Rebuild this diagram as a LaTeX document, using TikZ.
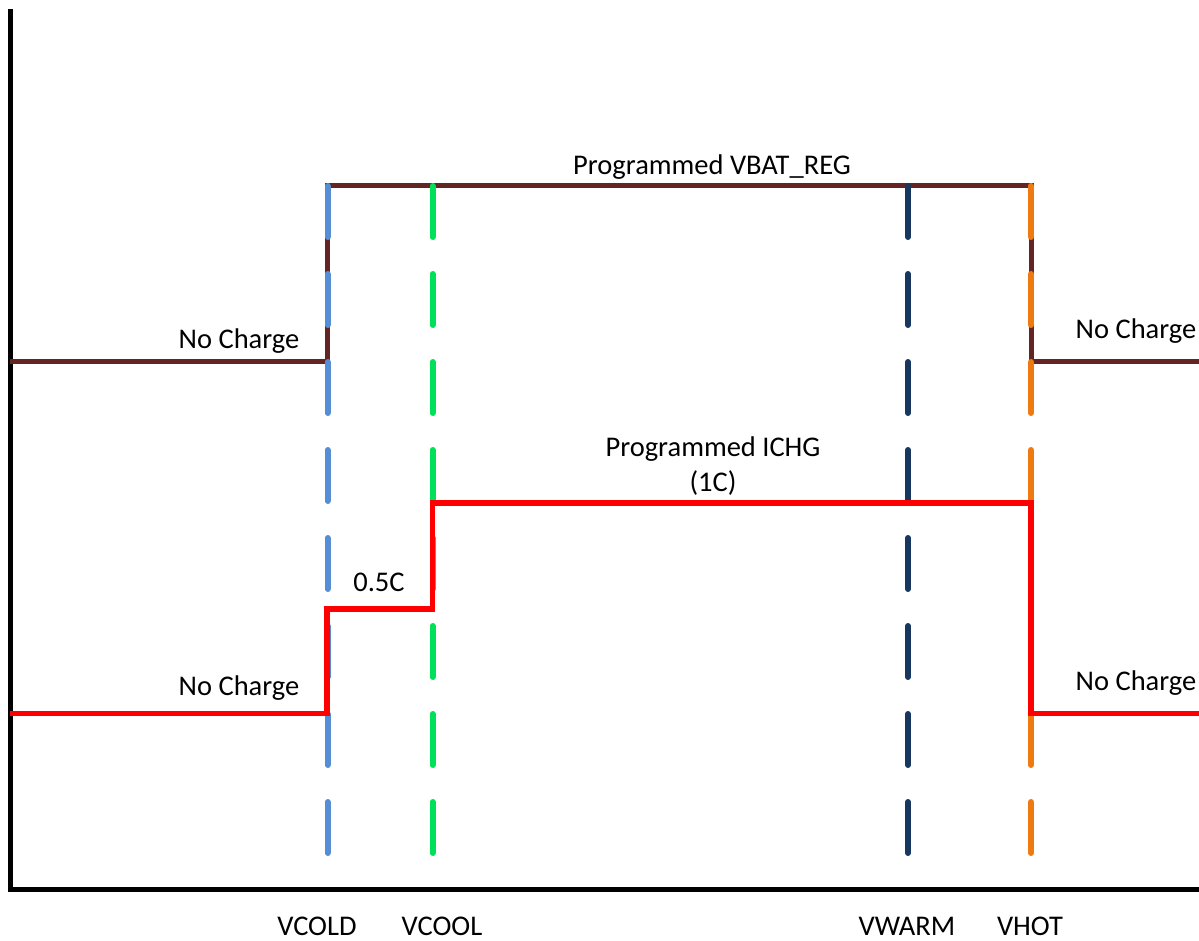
\documentclass[tikz,border=0pt]{standalone}
\usepackage{fontspec}
\setmainfont{Carlito}
\definecolor{vbrown}{HTML}{632523}
\definecolor{vblue}{HTML}{558ED5}
\definecolor{vgreen}{HTML}{00E05A}
\definecolor{vnavy}{HTML}{17375E}
\definecolor{vorange}{HTML}{EE7A10}
\definecolor{vred}{HTML}{FF0000}
\begin{document}
\begin{tikzpicture}[x=1pt,y=-1pt,
  lbl/.style={anchor=base,inner sep=0pt,font=\fontsize{28.5}{34}\selectfont},
  axisline/.style={line width=5pt,black},
  vbat/.style={line width=5pt,vbrown},
  ichg/.style={line width=5.5pt,vred},
  thr/.style={line width=6pt,line cap=round,dash pattern=on 51pt off 37pt}]
\useasboundingbox (0,0) rectangle (1199,941);
% axes
\coordinate (ytop) at (10.5,9);
\coordinate (orig) at (10.5,889);
\coordinate (xend) at (1199,889);
\draw[axisline] (ytop) -- (orig) -- (xend);
% VBAT_REG curve
\coordinate (b0) at (10,361);
\coordinate (b1) at (327.5,361);
\coordinate (b2) at (327.5,185.5);
\coordinate (b3) at (1031,185.5);
\coordinate (b4) at (1031,361);
\coordinate (b5) at (1199,361);
\draw[vbat] (b0) -- (b1) -- (b2) -- (b3) -- (b4) -- (b5);
% threshold dashed lines
\coordinate (cold1) at (327.5,186); \coordinate (cold2) at (327.5,853);
\coordinate (cool1) at (432.5,186); \coordinate (cool2) at (432.5,853);
\coordinate (warm1) at (908,186);   \coordinate (warm2) at (908,853);
\coordinate (hot1) at (1031,186);   \coordinate (hot2) at (1031,853);
\draw[thr,vblue] (cold1) -- (cold2);
\draw[thr,vgreen] (cool1) -- (cool2);
\draw[thr,vnavy] (warm1) -- (warm2);
\draw[thr,vorange] (hot1) -- (hot2);
% ICHG curve
\coordinate (r0) at (10,713.5);
\coordinate (r1) at (327,713.5);
\coordinate (r2) at (327,609);
\coordinate (r3) at (432.5,609);
\coordinate (r4) at (432.5,503);
\coordinate (r5) at (1031,503);
\coordinate (r6) at (1031,713.5);
\coordinate (r7) at (1199,713.5);
\draw[ichg] (r0) -- (r1) -- (r2) -- (r3) -- (r4) -- (r5) -- (r6) -- (r7);
% labels
\node[lbl] (nc1) at (239,348) {No Charge};
\node[lbl] (nc2) at (1136,338) {No Charge};
\node[lbl] (vreg) at (712,175) {Programmed VBAT\_REG};
\node[lbl] (ichg) at (713,456) {Programmed ICHG};
\node[lbl] (onec) at (713,491) {(1C)};
\node[lbl] (half) at (379,591) {0.5C};
\node[lbl] (nc3) at (239,695) {No Charge};
\node[lbl] (nc4) at (1136,690) {No Charge};
\node[lbl] (tcold) at (317,935) {VCOLD};
\node[lbl] (tcool) at (442,935) {VCOOL};
\node[lbl] (twarm) at (907,935) {VWARM};
\node[lbl] (thot) at (1030,935) {VHOT};
\end{tikzpicture}
\end{document}
